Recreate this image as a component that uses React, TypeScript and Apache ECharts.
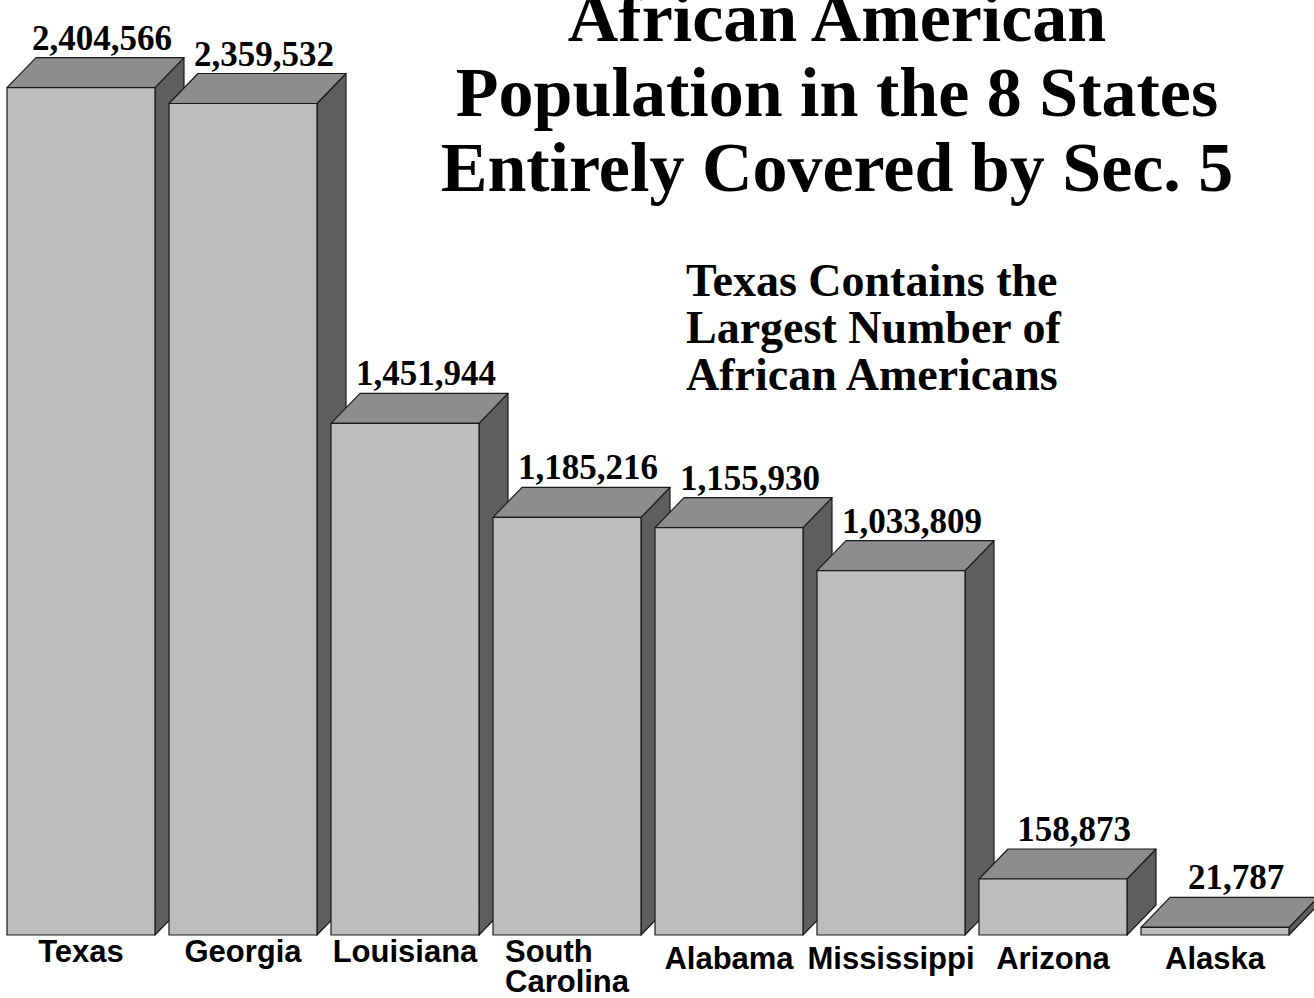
import React, { useEffect, useRef } from "react";
import * as echarts from "echarts";

const states = ["Texas", "Georgia", "Louisiana", "South\nCarolina", "Alabama", "Mississippi", "Arizona", "Alaska"];
const population = [2404566, 2359532, 1451944, 1185216, 1155930, 1033809, 158873, 21787];
const titleLines = ["African American", "Population in the 8 States", "Entirely Covered by Sec. 5"];
const noteLines = ["Texas Contains the", "Largest Number of", "African Americans"];

const FRONT = "#bdbdbd";
const TOP = "#8d8d8d";
const SIDE = "#5e5e5e";
const EDGE = "#1a1a1a";
const DX = 29;
const DY = 30;
const LOWER = ["Alabama", "Mississippi", "Arizona", "Alaska"];

export default function App() {
  const ref = useRef<HTMLDivElement>(null);
  useEffect(() => {
    if (!ref.current) return;
    const chart = echarts.init(ref.current, null, { renderer: "svg" });
    const labelFont = { fontFamily: "Liberation Sans", fontWeight: "bold", fontSize: 31, color: "#000", lineHeight: 30 };
    chart.setOption({
      animation: false,
      backgroundColor: "#ffffff",
      grid: { left: 0, top: 54, width: 1296, height: 881 },
      xAxis: {
        type: "category",
        data: states.map((s) =>
          LOWER.includes(s) ? { value: s, textStyle: { padding: [7, 0, 0, 0] } } : { value: s }
        ),
        axisLine: { show: false },
        axisTick: { show: false },
        splitLine: { show: false },
        axisLabel: {
          interval: 0,
          margin: 1,
          ...labelFont,
          formatter: (v: string) =>
            v.includes("\n") ? v.split("\n").map((p) => `{l|${p}}`).join("\n") : v,
          rich: { l: { ...labelFont, align: "left" } },
        },
      },
      yAxis: { type: "value", min: 0, max: 2500000, show: false, splitLine: { show: false } },
      graphic: [
        {
          type: "text",
          x: 837,
          y: 92,
          style: {
            text: titleLines.join("\n"),
            font: "bold 70px 'Liberation Serif'",
            lineHeight: 75,
            align: "center",
            verticalAlign: "middle",
            fill: "#000",
          },
        },
        {
          type: "text",
          x: 686,
          y: 327,
          style: {
            text: noteLines.join("\n"),
            font: "bold 46px 'Liberation Serif'",
            lineHeight: 47,
            align: "left",
            verticalAlign: "middle",
            fill: "#000",
          },
        },
      ],
      series: [
        {
          type: "custom",
          clip: false,
          data: population.map((v, i) => [i, v]),
          encode: { x: 0, y: 1 },
          renderItem: (params: any, api: any) => {
            const i = api.value(0);
            const v = api.value(1);
            const top = api.coord([i, v]);
            const base = api.coord([i, 0]);
            const band = api.size([1, 0])[0];
            const w = band * (148 / 162);
            const x0 = top[0] - w / 2;
            const x1 = top[0] + w / 2;
            const yT = top[1];
            const yB = base[1];
            const stroke = { stroke: EDGE, lineWidth: 1.2, lineJoin: "round" };
            return {
              type: "group",
              children: [
                {
                  type: "polygon",
                  shape: { points: [[x1, yT], [x1 + DX, yT - DY], [x1 + DX, yB - DY], [x1, yB]] },
                  style: { fill: SIDE, ...stroke },
                },
                {
                  type: "polygon",
                  shape: { points: [[x0, yT], [x0 + DX, yT - DY], [x1 + DX, yT - DY], [x1, yT]] },
                  style: { fill: TOP, ...stroke },
                },
                {
                  type: "rect",
                  shape: { x: x0, y: yT, width: w, height: yB - yT },
                  style: { fill: FRONT, ...stroke },
                },
                {
                  type: "text",
                  x: top[0] + 21,
                  y: yT - DY - 2,
                  style: {
                    text: Number(v).toLocaleString("en-US"),
                    font: "bold 35px 'Liberation Serif'",
                    align: "center",
                    verticalAlign: "bottom",
                    fill: "#000",
                  },
                },
              ],
            };
          },
        },
      ],
    });
    return () => chart.dispose();
  }, []);
  return (
    <div
      ref={ref}
      style={{ position: "absolute", left: 0, top: 0, width: 1314, height: 998, background: "#fff" }}
    />
  );
}
